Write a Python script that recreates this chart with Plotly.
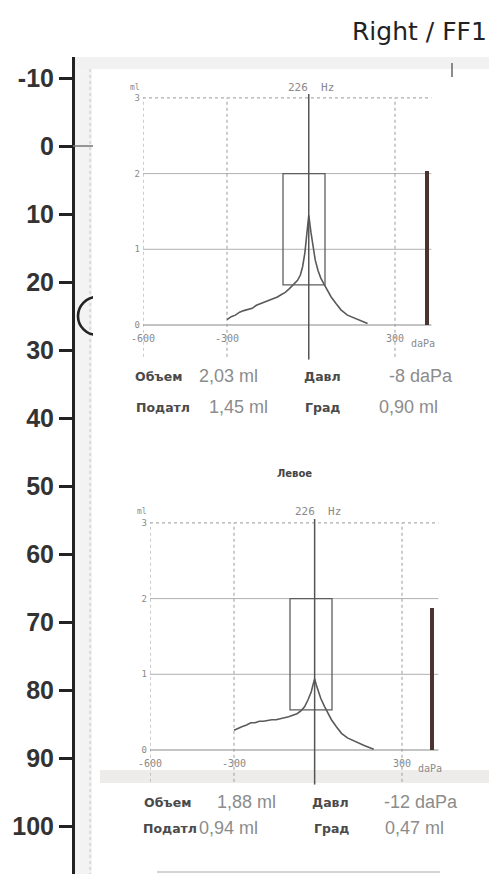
import plotly.graph_objects as go

W, H = 489, 874

# ---------------- data ----------------
hl_ticks = [-10, 0, 10, 20, 30, 40, 50, 60, 70, 80, 90, 100]
hl_ticktext = ["-10", "0", "10", "20", "30", "40", "50", "60", "70", "80", "90", "100"]
marker_db = [25]

p_right = [-300, -285, -270, -255, -240, -225, -210, -195, -180, -165, -150, -135, -120, -107,
           -92, -77, -62, -48, -38, -30, -22, -15, -8, 0, 8, 15, 25, 35, 48, 60, 72, 90, 107,
           130, 155, 180, 202]
c_right = [0.07, 0.11, 0.13, 0.17, 0.19, 0.21, 0.22, 0.26, 0.28, 0.30, 0.32, 0.34, 0.37, 0.40,
           0.43, 0.48, 0.53, 0.59, 0.66, 0.77, 0.95, 1.18, 1.45, 1.22, 1.02, 0.86, 0.72, 0.62,
           0.53, 0.45, 0.37, 0.28, 0.20, 0.13, 0.09, 0.05, 0.02]

p_left = [-300, -285, -270, -255, -240, -225, -210, -195, -180, -165, -150, -135, -120, -105,
          -90, -75, -60, -48, -36, -24, -18, -12, -6, 0, 10, 24, 36, 48, 65, 84, 105, 133, 165, 199]
c_left = [0.26, 0.29, 0.31, 0.33, 0.36, 0.36, 0.38, 0.38, 0.39, 0.40, 0.40, 0.41, 0.43, 0.44,
          0.46, 0.48, 0.52, 0.57, 0.66, 0.77, 0.86, 0.94, 0.86, 0.79, 0.68, 0.57, 0.48, 0.40,
          0.31, 0.22, 0.16, 0.11, 0.06, 0.01]

peak_right, peak_left = -8, -12
vol_right, vol_left = 2.03, 1.88
vol_bar_p = [415, 408]
norm_box_p = [-100, 50]
norm_box_c = [0.53, 2.0]
x_ticks = [-600, -300, 300]
x_ticktext = ["-600", "-300", "300"]
y_ticks = [0, 1, 2, 3]
grid_solid = [1, 2]
grid_top = 3
grid_vert = [-600, -300, 300]

stat_labels = ["Объем", "Давл", "Податл", "Град"]
stats_right = ["2,03 ml", "-8 daPa", "1,45 ml", "0,90 ml"]
stats_left = ["1,88 ml", "-12 daPa", "0,94 ml", "0,47 ml"]

title_text = "Right / FF1"
left_title = "Левое"
freq_text = "226  Hz"

# ---------------- helpers ----------------
def py(px):
    return 1 - px / H

def px_(x):
    return x / W

fig = go.Figure()

XR = [-600, 440]
YR = [-0.46, 3.05]
SX, SY = 0.28, 75.7

def tymp_domain(left_px, zero_px):
    right_px = left_px + (XR[1] - XR[0]) * SX
    top_px = zero_px - YR[1] * SY
    bot_px = zero_px - YR[0] * SY
    return [px_(left_px), px_(right_px)], [py(bot_px), py(top_px)]

dx3, dy3 = tymp_domain(143, 325)
dx4, dy4 = tymp_domain(150, 750)

# audiogram marker (half hidden circle)
fig.add_trace(go.Scatter(x=[97], y=marker_db, xaxis="x", yaxis="y2", mode="markers",
                         marker=dict(symbol="circle-open", size=38, color="#222",
                                     line=dict(width=2.6, color="#222")),
                         hoverinfo="skip", showlegend=False))

curve_col = "#5a5a5a"
for (p, c, xa, ya, vol, bp) in [(p_right, c_right, "x3", "y3", vol_right, vol_bar_p[0]),
                                (p_left, c_left, "x4", "y4", vol_left, vol_bar_p[1])]:
    fig.add_trace(go.Scatter(x=p, y=c, xaxis=xa, yaxis=ya, mode="lines",
                             line=dict(color=curve_col, width=1.6),
                             hoverinfo="skip", showlegend=False))
    fig.add_trace(go.Bar(x=[bp], y=[vol], width=[13], xaxis=xa, yaxis=ya,
                         marker=dict(color="#4a3430", line=dict(width=0)),
                         hoverinfo="skip", showlegend=False))

shapes = []
# background decorations (canvas pixels)
shapes.append(dict(type="rect", xref="x", yref="y", x0=74, x1=92, y0=57, y1=874,
                   fillcolor="#f3f3f3", line=dict(width=0), layer="below"))
shapes.append(dict(type="line", xref="x", yref="y", x0=90, x1=90, y0=57, y1=874,
                   line=dict(color="#c4c4c4", width=1, dash="dot"), layer="below"))
shapes.append(dict(type="rect", xref="x", yref="y", x0=74, x1=489, y0=57, y1=69,
                   fillcolor="#f1f1f1", line=dict(width=0), layer="below"))
shapes.append(dict(type="line", xref="x", yref="y", x0=452, x1=452, y0=63, y1=77,
                   line=dict(color="#666", width=1.5), layer="below"))
shapes.append(dict(type="rect", xref="x", yref="y", x0=100, x1=489, y0=770, y1=783,
                   fillcolor="rgba(175,170,160,0.22)", line=dict(width=0), layer="below"))
shapes.append(dict(type="line", xref="x", yref="y", x0=157, x1=440, y0=872, y1=872,
                   line=dict(color="#d4d4d4", width=2), layer="below"))
# zero tick extension
shapes.append(dict(type="line", xref="x", yref="y2", x0=73, x1=93, y0=0, y1=0,
                   line=dict(color="#777", width=1.5)))
# cover right half of the circle
shapes.append(dict(type="rect", xref="x", yref="y", x0=93, x1=125, y0=288, y1=342,
                   fillcolor="white", line=dict(width=0), layer="above"))

for xa, ya, peak in [("x3", "y3", peak_right), ("x4", "y4", peak_left)]:
    for g in grid_solid:
        shapes.append(dict(type="line", xref=xa, yref=ya, x0=-600, x1=430, y0=g, y1=g,
                           line=dict(color="#b0b0b0", width=1), layer="below"))
    shapes.append(dict(type="line", xref=xa, yref=ya, x0=-600, x1=430, y0=grid_top, y1=grid_top,
                       line=dict(color="#9a9a9a", width=1, dash="dot"), layer="below"))
    shapes.append(dict(type="line", xref=xa, yref=ya, x0=-600, x1=430, y0=0, y1=0,
                       line=dict(color="#8a8a8a", width=1.2), layer="below"))
    for g in grid_vert:
        shapes.append(dict(type="line", xref=xa, yref=ya, x0=g, x1=g, y0=-0.42, y1=grid_top,
                           line=dict(color="#9a9a9a", width=1, dash="dot"), layer="below"))
    shapes.append(dict(type="rect", xref=xa, yref=ya, x0=norm_box_p[0], x1=norm_box_p[1],
                       y0=norm_box_c[0], y1=norm_box_c[1],
                       line=dict(color="#5e5e5e", width=1.3), fillcolor="rgba(0,0,0,0)"))
    shapes.append(dict(type="line", xref=xa, yref=ya, x0=peak, x1=peak, y0=YR[0], y1=YR[1],
                       line=dict(color="#555", width=1.5)))

annotations = []

def ann(text, x, y, size, color, xanchor="left", family="DejaVu Sans", bold=False):
    t = f"<b>{text}</b>" if bold else text
    annotations.append(dict(text=t, x=x, y=y, xref="x", yref="y", xanchor=xanchor,
                            yanchor="middle", showarrow=False,
                            font=dict(size=size, color=color, family=family)))

ann(title_text, 489, 31, 25, "#222", xanchor="right", family="DejaVu Sans")
ann(left_title, 294, 473, 10, "#444", xanchor="center", bold=True)

small_font = "DejaVu Sans Mono"
for (zero_px, left_px, top3_px) in [(325, 143, 98), (750, 150, 522)]:
    ann(freq_text, left_px + 168, top3_px - 11, 11, "#8a8a8a", xanchor="center", family=small_font)
    ann("ml", left_px - 8, top3_px - 11, 8, "#8a8a8a", xanchor="center", family=small_font)
    ann("daPa", left_px + 266, zero_px + 18, 10, "#8a8a8a", xanchor="left", family=small_font)

lab_font = "DejaVu Sans"
val_font = "Liberation Sans"
rows = [
    (stats_right, [376, 376, 407, 407], [133, 302, 134, 303], [197, 455, 207, 377]),
    (stats_left, [802, 802, 828, 828], [142, 310, 141, 312], [215, 460, 197, 383]),
]
for vals, ys, lx, vx in rows:
    for i in range(4):
        ann(stat_labels[i], lx[i], ys[i], 12.5, "#4a4a4a", bold=True, family=lab_font)
        ann(vals[i], vx[i], ys[i], 18, "#8c8c8c", xanchor="right" if i == 1 else "left",
            family=val_font)

axis_common_x = dict(range=XR, showgrid=False, zeroline=False, showline=False, ticks="",
                     tickvals=x_ticks, ticktext=x_ticktext, automargin=False,
                     tickfont=dict(size=10, color="#8a8a8a", family=small_font),
                     ticklabelstandoff=6, fixedrange=True)
axis_common_y = dict(range=YR, showgrid=False, zeroline=False, showline=False, ticks="",
                     tickvals=y_ticks, automargin=False,
                     tickfont=dict(size=9, color="#8a8a8a", family=small_font),
                     ticklabelstandoff=2, fixedrange=True)

y2_top_px, y2_zero_px, y2_step = 57, 146, 6.8
y2_range = [(H - y2_zero_px) / y2_step, (y2_top_px - y2_zero_px) / y2_step]

fig.update_layout(
    template="none",
    width=W, height=H, margin=dict(l=0, r=0, t=0, b=0, pad=0),
    paper_bgcolor="white", plot_bgcolor="rgba(0,0,0,0)",
    showlegend=False, bargap=0,
    xaxis=dict(range=[0, W], domain=[0, 1], visible=False, fixedrange=True, automargin=False),
    yaxis=dict(range=[H, 0], domain=[0, 1], visible=False, fixedrange=True, automargin=False),
    yaxis2=dict(range=y2_range, domain=[0, py(y2_top_px)], anchor="free", position=px_(73),
                side="left", tickvals=hl_ticks, ticktext=hl_ticktext, ticks="outside",
                ticklen=13, tickwidth=2.5, automargin=False,
                tickcolor="#222", showline=True, linewidth=3, linecolor="#222",
                showgrid=False, zeroline=False,
                tickfont=dict(size=25, color="#333", family="Liberation Sans", weight="bold"),
                ticklabelstandoff=0, fixedrange=True),
    xaxis3=dict(domain=dx3, anchor="free", position=py(325), **axis_common_x),
    yaxis3=dict(domain=dy3, anchor="x3", **axis_common_y),
    xaxis4=dict(domain=dx4, anchor="free", position=py(750), **axis_common_x),
    yaxis4=dict(domain=dy4, anchor="x4", **axis_common_y),
    shapes=shapes, annotations=annotations,
)

fig.write_html("out.html", config={"displayModeBar": False},
               post_script="document.body.style.margin='0';document.body.style.overflow='hidden';")
